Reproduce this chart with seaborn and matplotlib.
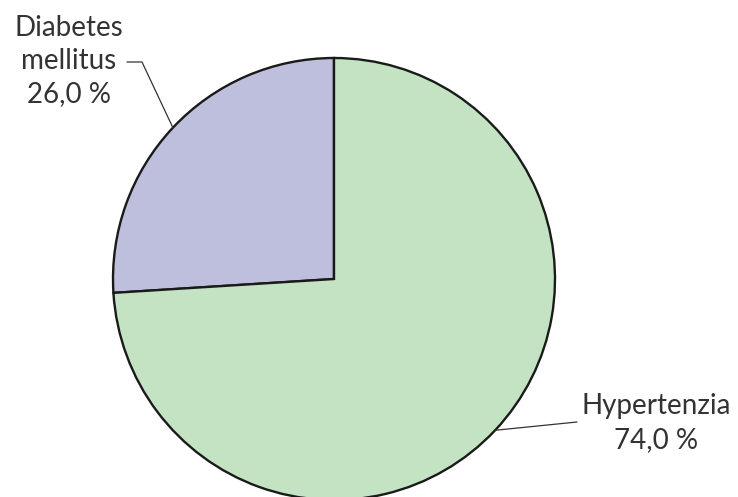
import numpy as np
import matplotlib
matplotlib.use("Agg")
import matplotlib.pyplot as plt
import seaborn as sns

labels = ["Diabetes\nmellitus", "Hypertenzia"]
shares = [26.0, 74.0]
colors = ["#bebedd", "#c3e3c3"]

sns.set_style("white")
plt.rcParams["font.family"] = ["Lato", "DejaVu Sans"]

W, H = 738, 497
fig = plt.figure(figsize=(W / 100, H / 100), dpi=100)
ax = fig.add_axes([0, 0, 1, 1])

cx, cy, r = 334, H - 279, 221
wedges, _ = ax.pie(shares, colors=colors, startangle=90, counterclock=True,
                   center=(cx, cy), radius=r, frame=True,
                   wedgeprops=dict(edgecolor="#1a1a1a", linewidth=1.7))
ax.set_xlim(0, W)
ax.set_ylim(0, H)
ax.set_aspect("equal")
ax.axis("off")

txt = "#333333"
for w, lab, val in zip(wedges, labels, shares):
    mid = np.deg2rad((w.theta1 + w.theta2) / 2)
    ex, ey = cx + r * np.cos(mid), cy + r * np.sin(mid)
    text = lab + f"\n{val:.1f} %".replace(".", ",")
    if np.cos(mid) < 0:
        ly = H - 62
        ax.plot([ex, 142, 127], [ey, ly, ly], color="#333333", lw=0.9)
        ax.text(69, H - 61, text, ha="center", va="center", fontsize=20,
                color=txt, linespacing=1.34)
    else:
        ly = H - 422
        ax.plot([ex, 577], [ey, ly], color="#333333", lw=0.9)
        ax.text(656, H - 423, text, ha="center", va="center", fontsize=20,
                color=txt, linespacing=1.34)

fig.savefig("out.png", dpi=100)
